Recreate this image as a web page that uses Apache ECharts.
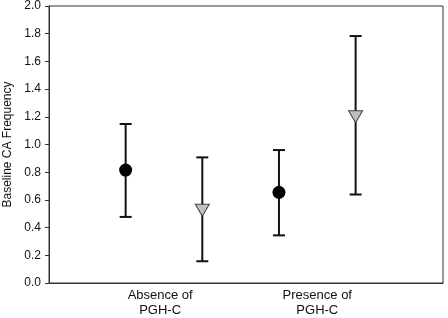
<!DOCTYPE html>
<html>
<head>
<meta charset="utf-8">
<script src="https://cdn.jsdelivr.net/npm/echarts@6/dist/echarts.min.js"></script>
<style>
  html, body { margin: 0; padding: 0; background: #fff; }
  #chart { width: 448px; height: 318px; }
</style>
</head>
<body>
<div id="chart"></div>
<script>
// groups along the x axis
const groups = ["Absence of\nPGH-C", "Presence of\nPGH-C"];

// circle series (mean, lower and upper ends of the error bar)
const circleMean = [0.815, 0.655];
const circleLow = [0.477, 0.344];
const circleHigh = [1.148, 0.96];

// triangle series
const triMean = [0.525, 1.2];
const triLow = [0.157, 0.639];
const triHigh = [0.907, 1.783];

const yTicks = [0, 0.2, 0.4, 0.6, 0.8, 1.0, 1.2, 1.4, 1.6, 1.8, 2.0];

// each group takes two slots on the x axis, the circle first
function slotX(groupIndex, seriesIndex) {
  return groupIndex * 2 + 1 + seriesIndex;
}

function errorData(low, high, seriesIndex) {
  return low.map((lo, i) => [slotX(i, seriesIndex), lo, high[i]]);
}

function meanData(mean, seriesIndex) {
  return mean.map((v, i) => [slotX(i, seriesIndex), v]);
}

function renderErrorBar(params, api) {
  const x = api.value(0);
  const lo = api.coord([x, api.value(1)]);
  const hi = api.coord([x, api.value(2)]);
  const cap = 6;
  const style = { stroke: "#111", lineWidth: 2 };
  return {
    type: "group",
    children: [
      { type: "line", shape: { x1: lo[0], y1: lo[1], x2: hi[0], y2: hi[1] }, style },
      { type: "line", shape: { x1: hi[0] - cap, y1: hi[1], x2: hi[0] + cap, y2: hi[1] }, style },
      { type: "line", shape: { x1: lo[0] - cap, y1: lo[1], x2: lo[0] + cap, y2: lo[1] }, style },
    ],
  };
}

const chart = echarts.init(document.getElementById("chart"));
const font = "Liberation Sans, Arial, sans-serif";

chart.setOption({
  animation: false,
  backgroundColor: "#fff",
  grid: {
    left: 49,
    right: 5,
    top: 6,
    bottom: 35,
    containLabel: false,
    outerBoundsMode: "none",
    show: true,
    borderColor: "#333",
    borderWidth: 1,
  },
  xAxis: {
    type: "value",
    min: 0,
    max: 5.14,
    splitLine: { show: false },
    axisLine: { show: true, onZero: false, lineStyle: { color: "#333", width: 1 } },
    axisTick: { show: false },
    axisLabel: {
      customValues: [1.45, 3.5],
      formatter: (v) => groups[v < 2.5 ? 0 : 1],
      color: "#111",
      fontFamily: font,
      fontSize: 13,
      lineHeight: 15,
      margin: 5,
    },
  },
  yAxis: {
    type: "value",
    min: 0,
    max: 2,
    interval: 0.2,
    name: "Baseline CA Frequency",
    nameLocation: "middle",
    nameGap: 34,
    nameTextStyle: { color: "#111", fontFamily: font, fontSize: 12 },
    splitLine: { show: false },
    axisLine: { show: true, lineStyle: { color: "#333", width: 1 } },
    axisTick: { show: true, length: 4, lineStyle: { color: "#333" } },
    axisLabel: {
      customValues: yTicks,
      formatter: (v) => v.toFixed(1),
      color: "#111",
      fontFamily: font,
      fontSize: 12,
      margin: 8,
    },
  },
  series: [
    {
      type: "custom",
      renderItem: renderErrorBar,
      data: errorData(circleLow, circleHigh, 0),
      z: 1,
    },
    {
      type: "custom",
      renderItem: renderErrorBar,
      data: errorData(triLow, triHigh, 1),
      z: 1,
    },
    {
      type: "scatter",
      data: meanData(circleMean, 0),
      symbol: "circle",
      symbolSize: 13,
      itemStyle: { color: "#000", opacity: 1 },
      z: 3,
    },
    {
      type: "scatter",
      data: meanData(triMean, 1),
      symbol: "triangle",
      symbolRotate: 180,
      symbolSize: [14, 12],
      itemStyle: { color: "#c0c0c0", borderColor: "#444", borderWidth: 1, opacity: 1 },
      z: 3,
    },
  ],
});
</script>
</body>
</html>
